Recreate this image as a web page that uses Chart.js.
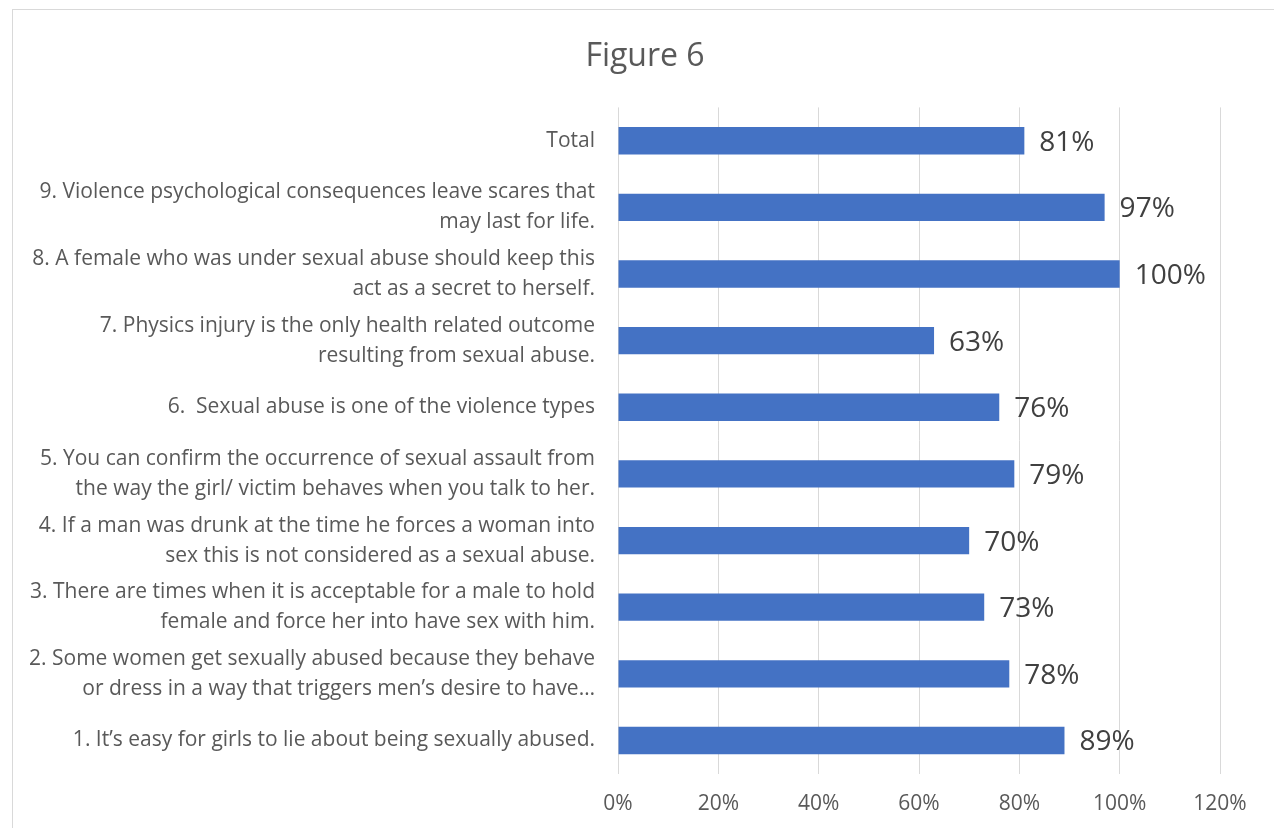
<!DOCTYPE html>
<html>
<head>
<meta charset="utf-8">
<script src="https://cdn.jsdelivr.net/npm/chart.js@4"></script>
<style>
  html, body { margin: 0; padding: 0; background: #fff; overflow: hidden; }
  #frame {
    position: absolute; left: 12px; top: 9px;
    width: 1266px; height: 830px;
    border: 1px solid #d9d9d9; box-sizing: border-box;
  }
  #frame canvas { display: block; }
</style>
</head>
<body>
<div id="frame"><canvas id="fig6" width="1264" height="828"></canvas></div>
<script>
const categories = [
  "Total",
  ["9. Violence psychological consequences leave scares that", "may last for life."],
  ["8. A female who was under sexual abuse should keep this", "act as a secret to herself."],
  ["7. Physics injury is the only health related outcome", "resulting from sexual abuse."],
  "6.  Sexual abuse is one of the violence types",
  ["5. You can confirm the occurrence of sexual assault from", "the way the girl/ victim behaves when you talk to her."],
  ["4. If a man was drunk at the time he forces a woman into", "sex this is not considered as a sexual abuse."],
  ["3. There are times when it is acceptable for a male to hold", "female and force her into have sex with him."],
  ["2. Some women get sexually abused because they behave", "or dress in a way that triggers men\u2019s desire to have\u2026"],
  "1. It\u2019s easy for girls to lie about being sexually abused."
];
const percentAgree = [81, 97, 100, 63, 76, 79, 70, 73, 78, 89];
const xStep = 20;
const xMax = 120;

const FONT = "'Open Sans', 'Noto Sans', sans-serif";

// writes the value next to the end of each bar
const barValues = {
  id: "barValues",
  afterDatasetsDraw(chart) {
    const ctx = chart.ctx;
    const meta = chart.getDatasetMeta(0);
    ctx.save();
    ctx.font = "28px " + FONT;
    ctx.fillStyle = "#404040";
    ctx.textAlign = "left";
    ctx.textBaseline = "middle";
    meta.data.forEach((bar, i) => {
      ctx.fillText(percentAgree[i] + "%", bar.x + 15, bar.y + 2);
    });
    ctx.restore();
  }
};

const ctx = document.getElementById("fig6").getContext("2d");
new Chart(ctx, {
  type: "bar",
  data: {
    labels: categories,
    datasets: [{
      data: percentAgree,
      backgroundColor: "#4472C4",
      barPercentage: 0.41,
      categoryPercentage: 1.0,
    }],
  },
  options: {
    indexAxis: "y",
    responsive: false,
    animation: false,
    layout: { padding: { left: 0, right: 0, top: 0, bottom: 3 } },
    plugins: {
      legend: { display: false },
      tooltip: { enabled: false },
      title: {
        display: true,
        text: "Figure 6",
        color: "#595959",
        font: { family: FONT, size: 32, weight: "normal" },
        padding: { top: 28, bottom: 31 },
      },
    },
    scales: {
      x: {
        min: 0,
        max: xMax,
        ticks: {
          stepSize: xStep,
          callback: v => v + "%",
          color: "#595959",
          font: { family: FONT, size: 21 },
          padding: 18,
        },
        grid: { color: "#d9d9d9", drawTicks: false },
        border: { display: false },
      },
      y: {
        afterFit(scale) { scale.width = 605; },
        ticks: {
          color: "#595959",
          font: { family: FONT, size: 21, lineHeight: 1.43 },
          padding: 23,
        },
        grid: { display: false, drawTicks: false },
        border: { display: false },
      },
      // empty right-hand gutter so the plot stops short of the frame
      yRight: {
        type: "category",
        position: "right",
        afterFit(scale) { scale.width = 57; },
        ticks: { display: false },
        grid: { display: false, drawTicks: false },
        border: { display: false },
      },
    },
  },
  plugins: [barValues],
});
</script>
</body>
</html>
